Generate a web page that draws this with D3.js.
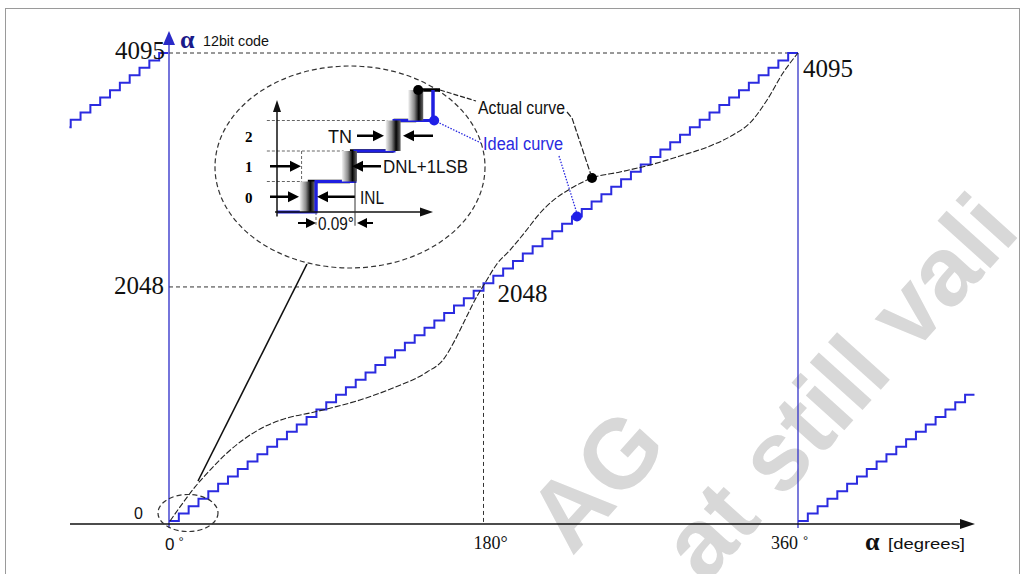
<!DOCTYPE html>
<html>
<head>
<meta charset="utf-8">
<script src="https://cdn.jsdelivr.net/npm/d3@7"></script>
<style>
  body { margin: 0; background: #fff; }
  svg { display: block; }
</style>
</head>
<body>
<div id="main"></div>
<script>
const ctx = { w: 1026, h: 574 };

// main axes
const angleTicks = [0, 180, 360];
const codeTicks = [0, 2048, 4095];
const maxCode = 4095;
const stepCount = 64;

// actual transfer curve, [degrees, code]
const actualCurve = [
  [0.6, 0], [6.3, 123], [14.9, 298], [23.5, 446], [33.2, 595], [42.3, 709],
  [52.1, 805], [67.5, 901], [80.7, 945], [95.0, 998], [109.3, 1059],
  [128.2, 1164], [147.7, 1304], [156.8, 1409], [163.7, 1584], [169.4, 1759],
  [175.1, 1934], [180.9, 2083], [187.7, 2249], [195.2, 2371], [203.8, 2529],
  [212.4, 2695], [220.9, 2818], [229.5, 2905], [242.1, 3001], [258.1, 3054],
  [275.3, 3115], [292.5, 3194], [309.6, 3281], [322.8, 3378], [332.5, 3483],
  [342.3, 3684], [351.4, 3920], [360, 4095]
];
const actualMark = [242.1, 3001];
const idealMarkAngle = 233.5;

// ideal staircase pieces from the neighbouring turns, [from, to, shift]
const stairPieces = [[-57, -0.5, 360], [0, 360, 0], [360, 461, -360]];

// inset: x in LSB, y in code
const insetLevels = [0, 1, 2];
const insetIdeal = [[0, 0], [1, 1], [2, 2], [3, 3], [4, 4]];
const insetTransitions = [0.79, 1.87, 2.99, 3.57];

// watermark pieces
const watermark = ["AG", "at still vali"];

function arrow(g, x1, y1, x2, y2, color, len, half, sw) {
  const a = Math.atan2(y2 - y1, x2 - x1);
  const bx = x2 - len * Math.cos(a), by = y2 - len * Math.sin(a);
  g.append("line").attr("x1", x1).attr("y1", y1).attr("x2", bx).attr("y2", by)
    .attr("stroke", color).attr("stroke-width", sw);
  const px = -Math.sin(a) * half, py = Math.cos(a) * half;
  g.append("path")
    .attr("d", `M${x2},${y2}L${bx + px},${by + py}L${bx - px},${by - py}Z`)
    .attr("fill", color);
}

function createViz() {
  const svg = d3.select("#main").append("svg")
    .attr("width", ctx.w).attr("height", ctx.h);
  svg.append("rect").attr("width", ctx.w).attr("height", ctx.h).attr("fill", "#fff");

  const serif = "'Liberation Serif', 'Times New Roman', serif";
  const sans = "'Liberation Sans', Arial, sans-serif";
  const narrow = "'Liberation Sans Narrow', 'Arial Narrow', 'Liberation Sans', Arial, sans-serif";

  // watermark
  const wm = svg.append("g").attr("fill", "#d8d8d8")
    .style("font-family", sans).style("font-weight", "bold").style("font-size", "98px");
  wm.append("text").attr("transform", "translate(572,557) rotate(-48)").text(watermark[0]);
  wm.append("text").attr("transform", "translate(705,585) rotate(-48)").text(watermark[1]);

  // frame
  svg.append("rect").attr("x", 5.5).attr("y", 8.5).attr("width", 1014).attr("height", 580)
    .attr("fill", "none").attr("stroke", "#9a9a9a").attr("stroke-width", 1);

  const x = d3.scaleLinear().domain([0, 360]).range([169, 798]);
  const y = d3.scaleLinear().domain([0, maxCode]).range([521, 53]);
  const axisY = 524;

  const levels = d3.range(stepCount).map(i => Math.round(i * maxCode / (stepCount - 1)));
  const q = d3.scaleQuantize().domain([0, 360]).range(levels);
  const lsb = 360 / stepCount;

  // dashed guides
  const guides = svg.append("g").attr("stroke", "#333").attr("stroke-width", 1)
    .attr("stroke-dasharray", "4,3").attr("fill", "none");
  guides.append("line").attr("x1", x(0)).attr("x2", x(360)).attr("y1", y(4095)).attr("y2", y(4095));
  guides.append("line").attr("x1", x(0)).attr("x2", x(180)).attr("y1", y(2048)).attr("y2", y(2048));
  guides.append("line").attr("x1", x(180)).attr("x2", x(180)).attr("y1", y(2048)).attr("y2", axisY);

  // blue verticals
  svg.append("line").attr("x1", x(360)).attr("x2", x(360)).attr("y1", y(4095)).attr("y2", axisY + 4)
    .attr("stroke", "#3434c8").attr("stroke-width", 1.3);
  arrow(svg, x(0), axisY + 4, x(0), 31, "#2a2ac8", 14, 6, 1.3);

  // x axis
  arrow(svg, 70, axisY, 975, axisY, "#111", 15, 5, 1.6);

  // ideal staircase
  const stairLine = d3.line().x(d => x(d[0])).y(d => y(d[1])).curve(d3.curveStepAfter);
  stairPieces.forEach(([a0, a1, off]) => {
    const pts = [[a0, q(Math.min(a0 + off, 359.99))]];
    for (let k = Math.floor((a0 + off) / lsb) + 1; k * lsb - off < a1; k++) {
      pts.push([k * lsb - off, q(k * lsb + lsb / 2)]);
    }
    pts.push([a1, q(Math.min(a1 + off, 359.99))]);
    svg.append("path").attr("d", stairLine(pts)).attr("fill", "none")
      .attr("stroke", "#2b2be0").attr("stroke-width", 2);
  });

  // actual curve
  const curve = d3.line().x(d => x(d[0])).y(d => y(d[1])).curve(d3.curveMonotoneX);
  svg.append("path").attr("d", curve(actualCurve)).attr("fill", "none")
    .attr("stroke", "#222").attr("stroke-width", 1.1).attr("stroke-dasharray", "6,2");

  // tick labels
  const lab = svg.append("g").attr("fill", "#111");
  lab.append("text").attr("x", x(0) - 4).attr("y", y(4095) + 6).attr("text-anchor", "end")
    .style("font-family", serif).style("font-size", "25px").text(codeTicks[2]);
  lab.append("text").attr("x", x(0) - 5).attr("y", y(2048) + 7).attr("text-anchor", "end")
    .style("font-family", serif).style("font-size", "25px").text(codeTicks[1]);
  lab.append("text").attr("x", x(0) - 26).attr("y", y(0) - 2).attr("text-anchor", "end")
    .style("font-family", sans).style("font-size", "16px").text(codeTicks[0]);
  lab.append("text").attr("x", x(360) + 5).attr("y", y(4095) + 24)
    .style("font-family", serif).style("font-size", "25px").text(codeTicks[2]);
  lab.append("text").attr("x", x(180) + 14).attr("y", y(2048) + 15)
    .style("font-family", serif).style("font-size", "25px").text(codeTicks[1]);

  const t0 = lab.append("text").attr("x", x(0) - 4).attr("y", axisY + 26)
    .style("font-family", sans).style("font-size", "17px");
  t0.append("tspan").text(angleTicks[0]);
  t0.append("tspan").attr("dx", 4).attr("dy", -4).style("font-size", "13px").text("°");
  lab.append("text").attr("x", x(180) - 10).attr("y", axisY + 25)
    .style("font-family", serif).style("font-size", "18px").text(angleTicks[1] + "°");
  const t360 = lab.append("text").attr("x", x(360) - 27).attr("y", axisY + 25)
    .style("font-family", serif).style("font-size", "18px");
  t360.append("tspan").text(angleTicks[2]);
  t360.append("tspan").attr("dx", 5).attr("dy", -4).style("font-family", sans).style("font-size", "13px").text("°");

  // axis titles
  lab.append("text").attr("x", 180).attr("y", 48).attr("fill", "#1a1a8a")
    .style("font-family", serif).style("font-weight", "bold").style("font-size", "26px").text("α");
  lab.append("text").attr("x", 203).attr("y", 46).attr("textLength", 66).attr("lengthAdjust", "spacingAndGlyphs")
    .style("font-family", narrow).style("font-size", "14px").text("12bit code");
  lab.append("text").attr("x", 865).attr("y", 550)
    .style("font-family", serif).style("font-weight", "bold").style("font-size", "26px").text("α");
  lab.append("text").attr("x", 888).attr("y", 549).attr("textLength", 77).attr("lengthAdjust", "spacingAndGlyphs")
    .style("font-family", narrow).style("font-size", "15px").text("[degrees]");

  // zoom ellipses and link
  const zoomG = svg.append("g").attr("fill", "none").attr("stroke", "#333")
    .attr("stroke-width", 1.2).attr("stroke-dasharray", "5,3");
  zoomG.append("ellipse").attr("cx", 350).attr("cy", 167).attr("rx", 135).attr("ry", 101);
  zoomG.append("ellipse").attr("cx", 188).attr("cy", 513).attr("rx", 30).attr("ry", 18.5);
  svg.append("line").attr("x1", 307).attr("y1", 264).attr("x2", 198).attr("y2", 481)
    .attr("stroke", "#111").attr("stroke-width", 1.6);

  // marks on the main curves
  svg.append("circle").attr("cx", x(actualMark[0])).attr("cy", y(actualMark[1])).attr("r", 5).attr("fill", "#000");
  svg.append("circle").attr("cx", x(idealMarkAngle)).attr("cy", y(q(idealMarkAngle))).attr("r", 5).attr("fill", "#1f1fe8");

  // inset
  const xi = d3.scaleLinear().domain([0, 4]).range([277, 433]);
  const yi = d3.scaleLinear().domain([0, 4]).range([212, 90]);
  const ins = svg.append("g");

  const grid = ins.append("g").attr("stroke", "#555").attr("stroke-width", 0.9)
    .attr("stroke-dasharray", "3,2").attr("fill", "none");
  grid.append("line").attr("x1", xi(-0.26)).attr("x2", xi(insetTransitions[0] - 0.16)).attr("y1", yi(1)).attr("y2", yi(1));
  grid.append("line").attr("x1", xi(-0.26)).attr("x2", xi(insetTransitions[1] - 0.16)).attr("y1", yi(2)).attr("y2", yi(2));
  grid.append("line").attr("x1", xi(-0.26)).attr("x2", xi(insetTransitions[2] - 0.16)).attr("y1", yi(3)).attr("y2", yi(3));
  grid.append("line").attr("x1", xi(insetTransitions[0] - 0.16)).attr("x2", xi(insetTransitions[0] - 0.16)).attr("y1", yi(2)).attr("y2", yi(0));
  grid.append("line").attr("x1", xi(1)).attr("x2", xi(1)).attr("y1", yi(0)).attr("y2", yi(-0.42));

  const defs = svg.append("defs");
  const grad = defs.append("linearGradient").attr("id", "tn");
  grad.append("stop").attr("offset", "0%").attr("stop-color", "#f2f2f2");
  grad.append("stop").attr("offset", "40%").attr("stop-color", "#8a8a8a");
  grad.append("stop").attr("offset", "70%").attr("stop-color", "#050505");
  grad.append("stop").attr("offset", "100%").attr("stop-color", "#6a6a6a");

  // actual inset steps
  insetTransitions.forEach((t, i) => {
    const next = i + 1 < insetTransitions.length ? insetTransitions[i + 1] : 4.18;
    ins.append("line").attr("x1", xi(t)).attr("x2", xi(next)).attr("y1", yi(i + 1)).attr("y2", yi(i + 1))
      .attr("stroke", "#000").attr("stroke-width", 3.5);
  });
  // ideal inset steps
  ins.append("path").attr("d", d3.line().x(d => xi(d[0])).y(d => yi(d[1])).curve(d3.curveStepAfter)(insetIdeal))
    .attr("fill", "none").attr("stroke", "#1f1fe0").attr("stroke-width", 3);
  // transition noise bands
  insetTransitions.forEach((t, i) => {
    ins.append("rect").attr("x", xi(t) - 8).attr("y", yi(i + 1)).attr("width", 15).attr("height", yi(i) - yi(i + 1))
      .attr("fill", "url(#tn)");
  });
  // redraw visible ideal risers above the bands
  [1, 4].forEach(u => {
    ins.append("line").attr("x1", xi(u)).attr("x2", xi(u)).attr("y1", yi(u - 1)).attr("y2", yi(u))
      .attr("stroke", "#1f1fe0").attr("stroke-width", 3);
  });

  // inset axes
  arrow(ins, xi(0), yi(-0.15), xi(0), 100, "#111", 12, 4, 1.5);
  arrow(ins, xi(-0.05), yi(0), xi(4), yi(0), "#111", 13, 4.5, 1.5);

  // inset labels
  insetLevels.forEach(n => {
    ins.append("text").attr("x", 245).attr("y", yi(n + 0.5) + 6)
      .style("font-family", serif).style("font-weight", "bold").style("font-size", "15px").text(n);
  });

  // dimension arrows
  const aw = 2.5;
  arrow(ins, 270, yi(0.5), 299, yi(0.5), "#000", 11, 5.5, aw);
  arrow(ins, 355, yi(0.5), 317, yi(0.5), "#000", 11, 5.5, aw);
  arrow(ins, 270, yi(1.5), 301, yi(1.5), "#000", 11, 5.5, aw);
  arrow(ins, 381, yi(1.5), 352, yi(1.5), "#000", 11, 5.5, aw);
  arrow(ins, 357, yi(2.5), 384, yi(2.5), "#000", 11, 5.5, aw);
  arrow(ins, 433, yi(2.5), 403, yi(2.5), "#000", 11, 5.5, aw);
  arrow(ins, 298, yi(-0.36), 316, yi(-0.36), "#000", 10, 5, 2);
  arrow(ins, 373, yi(-0.36), 357, yi(-0.36), "#000", 10, 5, 2);
  ins.append("line").attr("x1", xi(2)).attr("x2", xi(2)).attr("y1", yi(1)).attr("y2", yi(-0.45))
    .attr("stroke", "#333").attr("stroke-width", 1);

  const itext = (tx, ty, w, s) => ins.append("text").attr("x", tx).attr("y", ty)
    .attr("textLength", w).attr("lengthAdjust", "spacingAndGlyphs")
    .style("font-family", narrow).style("font-size", "18px").attr("fill", "#111").text(s);
  itext(328, yi(2.5) + 7, 24, "TN");
  itext(383, yi(1.5) + 7, 85, "DNL+1LSB");
  itext(360, yi(0.5) + 7, 24, "INL");
  itext(318, yi(-0.36) + 7, 36, "0.09°");

  // leaders and labels
  ins.append("circle").attr("cx", xi(3.62)).attr("cy", yi(4)).attr("r", 5).attr("fill", "#000");
  ins.append("circle").attr("cx", xi(4.03)).attr("cy", yi(3)).attr("r", 5).attr("fill", "#1f1fe8");
  svg.append("path").attr("d", `M${xi(4.18)},${yi(4)}L476,101`)
    .attr("fill", "none").attr("stroke", "#222").attr("stroke-width", 1.2).attr("stroke-dasharray", "5,2");
  svg.append("path").attr("d", `M567,112L572,118L${x(actualMark[0]) - 1},${y(actualMark[1]) - 3}`)
    .attr("fill", "none").attr("stroke", "#222").attr("stroke-width", 1.2).attr("stroke-dasharray", "6,2");
  svg.append("path").attr("d", `M${xi(4.03)},${yi(3)}L481,143`)
    .attr("fill", "none").attr("stroke", "#2a2ae0").attr("stroke-width", 1.3).attr("stroke-dasharray", "1.5,1.5");
  svg.append("path").attr("d", `M559,156L${x(idealMarkAngle)},${y(q(idealMarkAngle)) - 3}`)
    .attr("fill", "none").attr("stroke", "#2a2ae0").attr("stroke-width", 1.3).attr("stroke-dasharray", "1.5,1.5");

  svg.append("text").attr("x", 478).attr("y", 114).attr("textLength", 87).attr("lengthAdjust", "spacingAndGlyphs")
    .style("font-family", narrow).style("font-size", "18px").attr("fill", "#111").text("Actual curve");
  svg.append("text").attr("x", 483).attr("y", 150).attr("textLength", 80).attr("lengthAdjust", "spacingAndGlyphs")
    .style("font-family", narrow).style("font-size", "18px").attr("fill", "#2a2ae0").text("Ideal curve");
}

createViz();
</script>
</body>
</html>
